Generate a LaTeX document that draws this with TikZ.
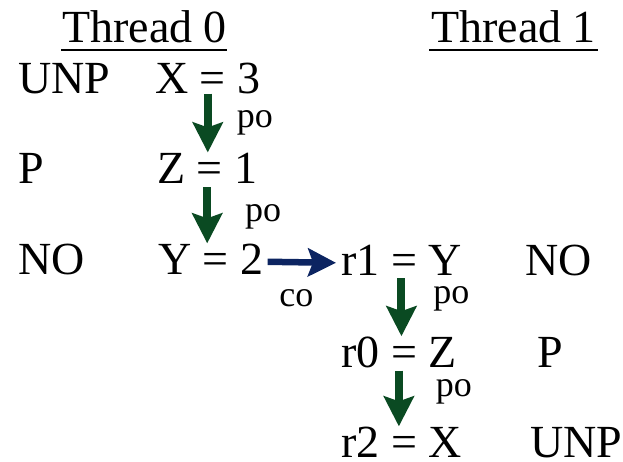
\documentclass[tikz,border=0pt]{standalone}
\usepackage{fontspec}
\setmainfont{Liberation Serif}
\usetikzlibrary{arrows.meta, positioning}
\definecolor{cpo}{HTML}{0A4A22}
\definecolor{cco}{HTML}{0C2461}

\begin{document}
\begin{tikzpicture}[x=1pt, y=-1pt,
    stmt/.style={inner sep=0pt, anchor=base west, font=\fontsize{46}{50}\selectfont},
    lbl/.style={inner sep=0pt, text=black, font=\fontsize{36}{40}\selectfont},
    poarrow/.style={-{Stealth[length=30pt, width=30pt, inset=5pt]}, line width=8pt, cpo},
    coarrow/.style={-{Stealth[length=28pt, width=28pt, inset=5pt]}, line width=6.5pt, cco}
]
\useasboundingbox (0,0) rectangle (623,461);

% Headers
\node[stmt] (th0) at (62,42) {Thread 0};
\node[stmt] (th1) at (431,42) {Thread 1};
\draw[line width=2.5pt] ([shift={(-1,8)}]th0.base west) -- ([shift={(0,8)}]th0.base east);
\draw[line width=2.5pt] ([shift={(-2,8)}]th1.base west) -- ([shift={(2,8)}]th1.base east);

% Thread 0
\node[stmt] (unp0) at (18,93) {UNP};
\node[stmt] (x3) at (155,93) {X = 3};
\node[stmt] (p0) at (18,183) {P};
\node[stmt] (z1) at (157,183) {Z = 1};
\node[stmt] (no0) at (18,274) {NO};
\node[stmt] (y2) at (158,274) {Y = 2};

% Thread 1
\node[stmt] (r1) at (341,275) {r1 = Y};
\node[stmt] (no1) at (525,275) {NO};
\node[stmt] (r0) at (341,367) {r0 = Z};
\node[stmt] (p1) at (537,367) {P};
\node[stmt] (r2) at (341,457) {r2 = X};
\node[stmt] (unp1) at (530,457) {UNP};

% Program order
\draw[poarrow] (x3.south) -- node[lbl, pos=0.58, anchor=base west, xshift=25pt] {po} (x3.south |- z1.north);
\draw[poarrow] ([yshift=-4pt]z1.south) -- node[lbl, pos=0.61, anchor=base west, xshift=34pt] {po} (z1.south |- y2.north);
\draw[poarrow] ([yshift=-3pt]r1.south) -- node[lbl, pos=0.43, anchor=base west, xshift=28pt] {po} (r1.south |- r0.north);
\draw[poarrow] ([yshift=-3pt]r0.south) -- node[lbl, pos=0.46, anchor=base west, xshift=33pt] {po} (r0.south |- r2.north);

% Coherence order
\draw[coarrow] ([shift={(4,3)}]y2.east) -- node[lbl, pos=0.42, below=24pt] {co} ([shift={(-5,3)}]r1.west);

\end{tikzpicture}
\end{document}
